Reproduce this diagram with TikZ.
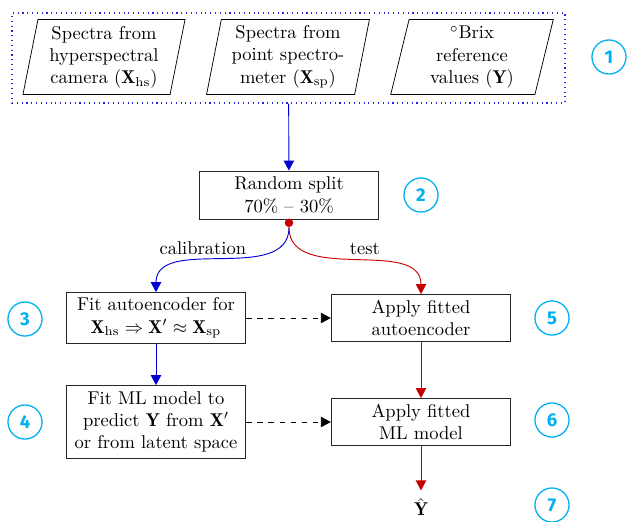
\documentclass[tikz,border=0pt]{standalone}
\usepackage{amsmath,amssymb}
\usepackage{fontspec}
\newfontfamily\markfont{Fira Sans}
\usetikzlibrary{arrows.meta,positioning,shapes.geometric}
\definecolor{flowblue}{RGB}{0,0,210}
\definecolor{flowred}{RGB}{200,0,0}
\definecolor{markcyan}{RGB}{0,176,240}
\tikzset{
  inbox/.style={trapezium, trapezium left angle=79, trapezium right angle=101,
                trapezium stretches=true, draw=black, minimum width=88pt,
                minimum height=40.5pt, inner sep=1pt, align=center},
  groupbox/.style={rectangle, draw=flowblue!85!white, dotted, line width=0.6pt,
                   minimum width=298.6pt, minimum height=48.6pt},
  stepbox/.style={rectangle, draw=black!85, fill=white, minimum width=97pt,
                  inner sep=2pt, align=center},
  forkdot/.style={circle, fill=flowred, minimum size=4.6pt, inner sep=0pt},
  marker/.style={circle, draw=markcyan, line width=0.7pt, minimum size=18.4pt,
                 inner sep=0pt, text=markcyan, font=\markfont\bfseries},
  calflow/.style ={->, flowblue, line width=0.5pt},
  testflow/.style={->, flowred, line width=0.5pt},
  handover/.style={->, black, dashed, line width=0.5pt},
}

\begin{document}
\begin{tikzpicture}[x=0.54pt, y=-0.54pt, >={Triangle[length=5.4pt, width=5.6pt]}]
\useasboundingbox (0,0) rectangle (628,521);
% inputs
\node[inbox] (hs) at (104,57) {Spectra from\\hyperspectral\\camera ($\mathbf{X}_{\mathrm{hs}}$)};
\node[inbox] (sp) at (288,57) {Spectra from\\point spectro-\\meter ($\mathbf{X}_{\mathrm{sp}}$)};
\node[inbox] (brix) at (472,57) {$^\circ$Brix\\reference\\values ($\mathbf{Y}$)};
\node[groupbox] (inputs) at (288.5,58) {};
% split
\node[stepbox, minimum height=26pt] (split) at (289,195) {Random split\\70\% -- 30\%};
\node[forkdot, yshift=-1.8pt] (fork) at (split.south) {};
% calibration side
\node[stepbox, minimum height=27.5pt] (fitae) at (156,318) {Fit autoencoder for\\$\mathbf{X}_{\mathrm{hs}} \Rightarrow \mathbf{X}' \approx \mathbf{X}_{\mathrm{sp}}$};
\node[stepbox, minimum height=39.4pt] (fitml) at (156,422) {Fit ML model to\\predict $\mathbf{Y}$ from $\mathbf{X}'$\\or from latent space};
% test side
\node[stepbox, minimum height=25.4pt] (applyae) at (421,318) {Apply fitted\\autoencoder};
\node[stepbox, minimum height=25.4pt] (applyml) at (421,422) {Apply fitted\\ML model};
\node[inner sep=4pt] (yhat) at (421,507) {$\hat{\mathbf{Y}}$};
% step numbers
\node[marker] (m1) at (609,57) {1};
\node[marker] (m2) at (421,195) {2};
\node[marker] (m3) at (25,319) {3};
\node[marker] (m4) at (25,422) {4};
\node[marker] (m5) at (552,318) {5};
\node[marker] (m6) at (552,420) {6};
\node[marker] (m7) at (552,505) {7};
% connectors
\draw[calflow] (inputs) -- (split);
\draw[calflow] (fork) to[out=-90, in=90] node[pos=0.6, above, text=black]{calibration} (fitae);
\draw[testflow] (fork) to[out=-90, in=90] node[pos=0.55, above, text=black]{test} (applyae);
\draw[calflow] (fitae) -- (fitml);
\draw[testflow] (applyae) -- (applyml);
\draw[testflow] (applyml) -- (yhat);
\draw[handover] (fitae) -- (applyae);
\draw[handover] (fitml) -- (applyml);
\end{tikzpicture}
\end{document}
